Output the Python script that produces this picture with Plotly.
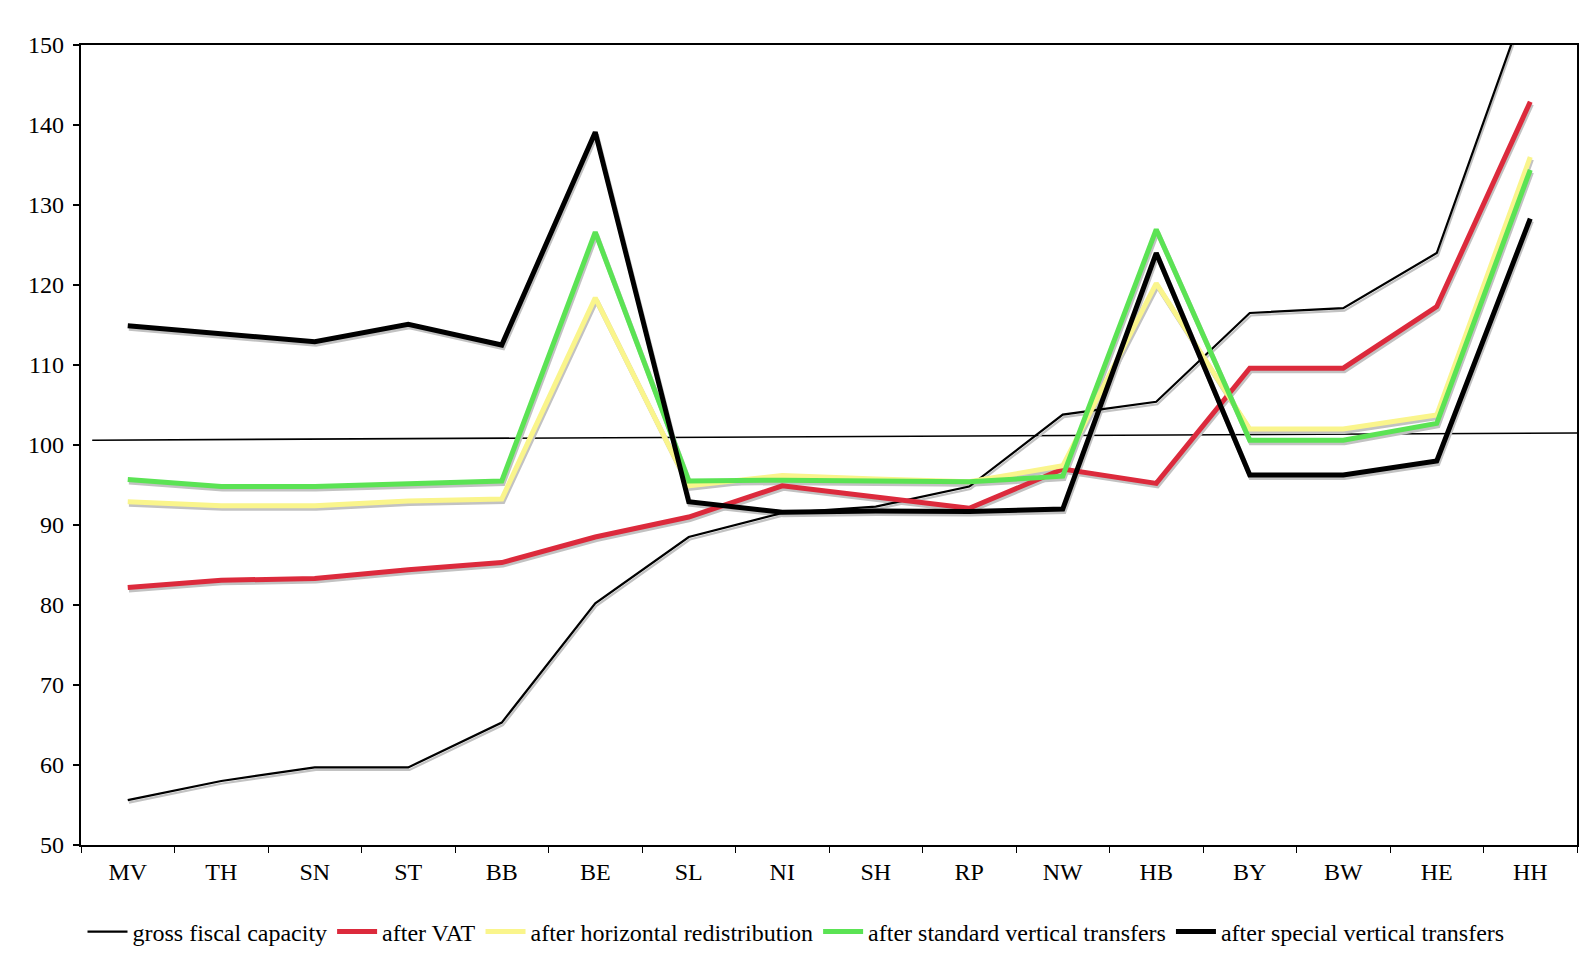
import plotly.graph_objects as go

categories = ["MV", "TH", "SN", "ST", "BB", "BE", "SL", "NI", "SH", "RP", "NW", "HB", "BY", "BW", "HE", "HH"]
gross = [55.6, 58.0, 59.7, 59.7, 65.3, 80.2, 88.5, 91.5, 92.3, 94.8, 103.8, 105.4, 116.5, 117.1, 124.0, 156.7]
after_vat = [82.2, 83.1, 83.3, 84.4, 85.3, 88.5, 91.0, 94.9, 93.5, 92.1, 97.0, 95.2, 109.6, 109.6, 117.3, 142.9]
after_horizontal = [92.9, 92.4, 92.4, 93.0, 93.25, 118.4, 94.9, 96.2, 95.75, 95.4, 97.4, 120.2, 102.0, 102.0, 103.75, 136.0]
after_standard = [95.7, 94.8, 94.8, 95.2, 95.5, 126.6, 95.5, 95.6, 95.5, 95.4, 96.1, 126.95, 100.6, 100.6, 102.7, 134.4]
after_special = [114.9, 113.9, 112.9, 115.1, 112.5, 139.1, 92.9, 91.6, 91.75, 91.7, 92.0, 124.0, 96.25, 96.25, 98.0, 128.3]
ref_level = [100.6, 101.5]

series = [
    ("gross fiscal capacity", gross, "#000000", 2.2),
    ("after VAT", after_vat, "#dc2a3c", 5),
    ("after horizontal redistribution", after_horizontal, "#faf58c", 5),
    ("after standard vertical transfers", after_standard, "#5be354", 5),
    ("after special vertical transfers", after_special, "#000000", 5),
]

FONT = "Liberation Serif"
W, H = 1582, 951
fig = go.Figure()

# shadows (base axes, shifted slightly down/right)
for name, vals, color, w in series:
    fig.add_trace(go.Scatter(x=categories, y=vals, mode="lines", showlegend=False,
                             hoverinfo="skip", line=dict(color="#c2c2c2", width=w),
                             xaxis="x", yaxis="y"))

# main lines
for name, vals, color, w in series:
    fig.add_trace(go.Scatter(x=categories, y=vals, mode="lines", name=name,
                             line=dict(color=color, width=w), xaxis="x2", yaxis="y2"))

fig.add_shape(type="line", xref="x2", yref="y2", x0=-0.38, x1=15.5,
              y0=ref_level[0], y1=ref_level[1], line=dict(color="black", width=1.6),
              layer="below")

dx = 1.2 / 93.6
dy = 2.5 / 8.0
fig.update_layout(
    width=W, height=H,
    margin=dict(l=73, r=11, t=37, b=114),
    paper_bgcolor="white", plot_bgcolor="white",
    font=dict(family=FONT, size=24, color="black"),
    showlegend=True,
    legend=dict(orientation="h", xref="container", yref="container", x=788 / W, xanchor="center",
                y=1 - 924 / H, yanchor="middle", font=dict(family=FONT, size=24),
                itemwidth=40, tracegroupgap=0),
    xaxis=dict(type="category", categoryarray=categories, range=[-0.5 - dx, 15.5 - dx],
               visible=False, showgrid=False),
    yaxis=dict(range=[50 + dy, 150 + dy], visible=False, showgrid=False),
    xaxis2=dict(type="category", categoryarray=categories, range=[-0.5, 15.5], overlaying="x",
                anchor="y2", showline=True, linecolor="black", linewidth=2.2, mirror=True,
                ticks="outside", tickson="boundaries", ticklen=6, tickwidth=1, tickcolor="black",
                showgrid=False, zeroline=False, tickfont=dict(family=FONT, size=24),
                ticklabelstandoff=4),
    yaxis2=dict(range=[50, 150], dtick=10, overlaying="y", anchor="x2", side="left",
                showline=True, linecolor="black", linewidth=2.2, mirror=True,
                ticks="outside", ticklen=6, tickwidth=2, tickcolor="black",
                showgrid=False, zeroline=False, tickfont=dict(family=FONT, size=24),
                ticklabelstandoff=4),
)

fig.write_html("out.html")
